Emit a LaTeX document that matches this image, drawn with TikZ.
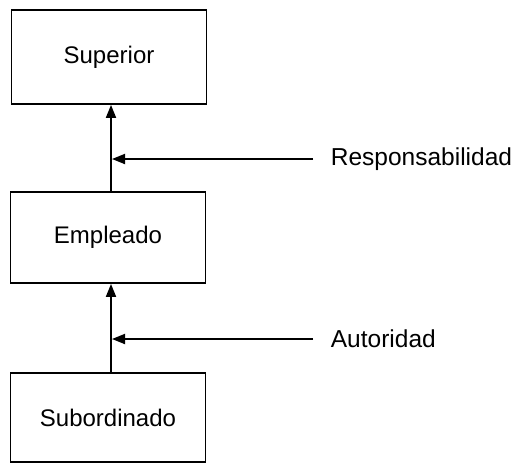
\documentclass[tikz,border=0pt]{standalone}
\usepackage{fontspec}
\setmainfont{Liberation Sans}
\usetikzlibrary{arrows.meta}
\begin{document}
\begin{tikzpicture}[x=1pt,y=-1pt,line width=1.8pt,
  box/.style={draw, minimum width=195pt, inner sep=0pt, font=\fontsize{24}{28}\selectfont},
  lbl/.style={anchor=west, inner sep=0pt, font=\fontsize{24.5}{28}\selectfont},
  arr/.style={-{Triangle[length=13pt,width=10pt]}}]
\useasboundingbox (0,0) rectangle (518,466);
\node[box, minimum height=94pt] (sup) at (109,57) {Superior};
\node[box, minimum height=91pt] (emp) at (108,237.5) {Empleado};
\node[box, minimum height=89pt] (sub) at (108,417.5) {Subordinado};
\draw[arr] (emp.north -| 111,0) -- (sup.south -| 111,0);
\draw[arr] (sub.north -| 111,0) -- (emp.south -| 111,0);
\node[lbl] (resp) at (330,159) {Responsabilidad};
\node[lbl] (aut) at (330,339) {Autoridad};
\coordinate (r0) at (313,159);
\coordinate (a0) at (313,339);
\draw[arr] (r0) -- (112,159);
\draw[arr] (a0) -- (112,339);
\end{tikzpicture}
\end{document}
